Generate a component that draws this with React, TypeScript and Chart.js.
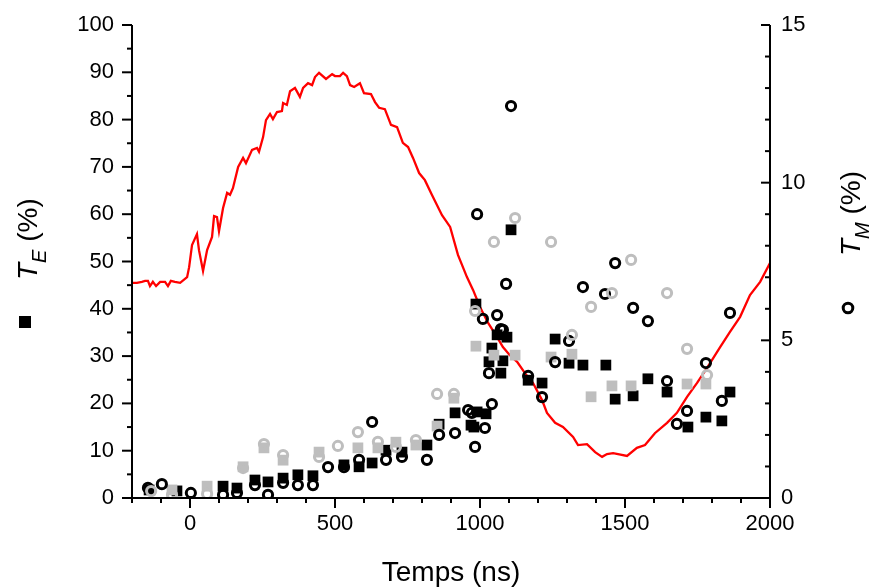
import React, { useEffect, useRef } from 'react';
import { Chart, registerables } from 'chart.js';

Chart.register(...registerables);

const FONT = '"Liberation Sans", Arial, Helvetica, sans-serif';

// Axis ticks
const X_TICKS = [0, 500, 1000, 1500, 2000];
const X_MINOR = [-200, -100, 100, 200, 300, 400, 600, 700, 800, 900, 1100, 1200, 1300, 1400, 1600, 1700, 1800, 1900];
const YL_TICKS = [0, 10, 20, 30, 40, 50, 60, 70, 80, 90, 100];
const YL_MINOR = [5, 15, 25, 35, 45, 55, 65, 75, 85, 95];
const YR_TICKS = [0, 5, 10, 15];
const YR_MINOR = [1, 2, 3, 4, 6, 7, 8, 9, 11, 12, 13, 14];

// Red reference curve (left axis)
const RED_X = [-200, -183, -166, -155, -145, -138, -128, -117, -103, -86, -76, -66, -52, -34, -10, -3, 7, 24, 31, 45, 59, 76, 83, 93, 100, 114, 128, 138, 148, 166, 183, 193, 214, 231, 238, 252, 262, 276, 286, 300, 317, 321, 334, 345, 362, 379, 390, 407, 421, 431, 445, 469, 490, 500, 517, 528, 541, 552, 566, 586, 600, 624, 638, 652, 672, 693, 714, 734, 752, 769, 790, 810, 834, 869, 897, 924, 955, 976, 1000, 1028, 1059, 1079, 1103, 1128, 1155, 1183, 1214, 1231, 1259, 1286, 1321, 1338, 1369, 1397, 1421, 1438, 1459, 1476, 1507, 1541, 1569, 1603, 1645, 1679, 1714, 1748, 1783, 1828, 1862, 1897, 1931, 1966, 2000];
const RED_Y = [45.5, 45.5, 45.7, 45.9, 45.9, 44.8, 45.7, 44.8, 45.7, 45.7, 44.8, 45.9, 45.7, 45.5, 46.7, 48.8, 53.5, 55.8, 52.4, 48.0, 52.4, 55.2, 59.6, 59.4, 56.4, 61.3, 64.5, 64.1, 65.5, 70.0, 71.9, 70.8, 73.6, 74.0, 73.2, 76.3, 79.9, 81.2, 80.1, 81.6, 81.8, 83.5, 83.1, 86.0, 86.7, 84.8, 86.7, 87.7, 87.3, 89.0, 89.9, 88.6, 89.6, 89.2, 89.2, 89.9, 89.2, 87.3, 86.9, 87.7, 85.6, 85.4, 83.7, 82.5, 82.2, 78.9, 78.4, 75.1, 74.2, 71.9, 68.7, 67.2, 64.1, 59.8, 57.3, 51.4, 46.7, 44.0, 40.4, 37.0, 34.0, 31.9, 30.2, 28.8, 26.4, 24.3, 20.7, 18.0, 15.9, 15.0, 12.9, 11.2, 11.4, 9.7, 8.7, 9.3, 9.5, 9.3, 8.9, 10.6, 11.2, 13.7, 15.9, 18.0, 21.4, 24.3, 27.5, 31.9, 35.1, 38.3, 42.9, 45.7, 49.7];

// T_E black squares (left axis)
const BSQ_X = [-141, -45, 114, 162, 224, 269, 321, 372, 424, 531, 583, 628, 676, 731, 817, 859, 914, 969, 979, 990, 1021, 986, 1031, 1041, 1059, 1072, 1079, 1093, 1107, 1166, 1214, 1259, 1307, 1355, 1434, 1466, 1528, 1579, 1645, 1717, 1779, 1834, 1862];
const BSQ_Y = [1.7, 1.5, 2.5, 2.1, 3.8, 3.4, 4.2, 4.9, 4.7, 7.0, 6.6, 7.4, 10.1, 9.7, 11.2, 15.6, 18.0, 15.4, 15.0, 18.2, 17.8, 41.0, 28.8, 31.7, 34.5, 26.4, 29.0, 34.0, 56.7, 24.9, 24.3, 33.6, 28.5, 28.1, 28.1, 20.9, 21.6, 25.2, 22.4, 15.0, 17.1, 16.3, 22.4];

// T_E gray squares (left axis)
const GSQ_X = [-62, 59, 183, 255, 321, 445, 579, 648, 710, 779, 852, 910, 986, 1048, 1121, 1245, 1317, 1383, 1455, 1521, 1714, 1779];
const GSQ_Y = [1.7, 2.5, 6.6, 10.6, 8.0, 9.7, 10.6, 10.6, 11.8, 11.2, 15.2, 21.1, 32.1, 30.2, 30.2, 29.8, 30.4, 21.4, 23.7, 23.7, 24.1, 24.1];

// T_M black circles (right axis)
const BC_X = [-145, -97, 3, 114, 162, 224, 269, 321, 372, 424, 476, 531, 583, 628, 676, 731, 817, 859, 914, 959, 972, 983, 1017, 1041, 1031, 990, 1010, 1059, 1072, 1079, 1090, 1107, 1166, 1214, 1259, 1307, 1355, 1431, 1466, 1528, 1579, 1645, 1679, 1714, 1779, 1834, 1862];
const BC_Y = [0.32, 0.44, 0.16, 0.10, 0.16, 0.41, 0.10, 0.48, 0.41, 0.41, 0.98, 0.98, 1.21, 2.41, 1.21, 1.30, 1.21, 2.00, 2.06, 2.79, 2.70, 1.62, 2.22, 2.98, 3.96, 9.0, 5.68, 5.80, 5.36, 5.33, 6.79, 12.43, 3.87, 3.20, 4.31, 4.98, 6.69, 6.47, 7.45, 6.03, 5.61, 3.71, 2.35, 2.76, 4.28, 3.08, 5.87];

// T_M gray circles (right axis)
const GC_X = [-134, -62, 59, 183, 255, 321, 445, 510, 579, 648, 710, 779, 852, 910, 983, 1048, 1121, 1245, 1317, 1383, 1455, 1521, 1645, 1714, 1783];
const GC_Y = [0.22, 0.10, 0.13, 0.95, 1.71, 1.36, 1.30, 1.65, 2.09, 1.78, 1.62, 1.84, 3.30, 3.30, 5.93, 8.12, 8.88, 8.12, 5.17, 6.06, 6.50, 7.55, 6.50, 4.73, 3.90];

const zip = (xs: number[], ys: number[]) => xs.map((x, i) => ({ x, y: ys[i] }));

const GRAY = 'rgb(190,190,190)';

const axesPlugin = {
  id: 'customAxes',
  afterDraw(chart: any) {
    const { ctx, chartArea: ca, scales } = chart;
    const sx = scales.x, sl = scales.y, sr = scales.y1;
    ctx.save();
    ctx.strokeStyle = '#000';
    ctx.lineWidth = 2;
    ctx.lineCap = 'butt';
    const line = (x1: number, y1: number, x2: number, y2: number) => {
      ctx.beginPath();
      ctx.moveTo(x1, y1);
      ctx.lineTo(x2, y2);
      ctx.stroke();
    };
    // axis lines
    line(ca.left, ca.top, ca.left, ca.bottom + 1);
    line(ca.right, ca.top, ca.right, ca.bottom + 1);
    line(ca.left - 1, ca.bottom, ca.right + 1, ca.bottom);
    // x ticks (outward)
    X_TICKS.forEach((v) => { const p = sx.getPixelForValue(v); line(p, ca.bottom, p, ca.bottom + 10); });
    X_MINOR.forEach((v) => { const p = sx.getPixelForValue(v); line(p, ca.bottom, p, ca.bottom + 5); });
    // left y ticks (outward)
    YL_TICKS.forEach((v) => { const p = sl.getPixelForValue(v); line(ca.left - 10, p, ca.left, p); });
    YL_MINOR.forEach((v) => { const p = sl.getPixelForValue(v); line(ca.left - 5, p, ca.left, p); });
    // right y ticks (inward)
    YR_TICKS.forEach((v) => { const p = sr.getPixelForValue(v); line(ca.right - 9, p, ca.right, p); });
    YR_MINOR.forEach((v) => { const p = sr.getPixelForValue(v); line(ca.right - 5, p, ca.right, p); });

    // titles
    ctx.fillStyle = '#000';
    ctx.textBaseline = 'alphabetic';
    ctx.textAlign = 'center';
    ctx.font = `28px ${FONT}`;
    ctx.fillText('Temps (ns)', (ca.left + ca.right) / 2, 581);

    const rotTitle = (bx: number, by: number, main: string, sub: string, rest: string) => {
      ctx.save();
      ctx.translate(bx, by);
      ctx.rotate(-Math.PI / 2);
      ctx.textAlign = 'left';
      ctx.font = `italic 28px ${FONT}`;
      ctx.fillText(main, 0, 0);
      let w = ctx.measureText(main).width;
      ctx.font = `italic 20px ${FONT}`;
      ctx.fillText(sub, w, 9);
      w += ctx.measureText(sub).width;
      ctx.font = `28px ${FONT}`;
      ctx.fillText(rest, w, 0);
      ctx.restore();
    };
    rotTitle(37, 280, 'T', 'E', ' (%)');
    rotTitle(860, 256, 'T', 'M', ' (%)');

    // legend-like symbols
    ctx.fillStyle = '#000';
    ctx.fillRect(19, 316, 12, 12);
    ctx.beginPath();
    ctx.lineWidth = 3;
    ctx.arc(848, 308, 4.8, 0, Math.PI * 2);
    ctx.stroke();
    ctx.restore();
  },
};

const fmt = (v: any) => String(v);

export default function App() {
  const ref = useRef<HTMLCanvasElement | null>(null);
  useEffect(() => {
    if (!ref.current) return;
    const tickFont = { size: 22, family: FONT };
    const gridWith = (tl: number) => ({ display: false, drawTicks: true, tickLength: tl });
    const chart = new Chart(ref.current, {
      type: 'scatter',
      data: {
        datasets: [
          {
            type: 'line',
            data: zip(RED_X, RED_Y),
            yAxisID: 'y',
            borderColor: '#ff0000',
            borderWidth: 2.3,
            pointRadius: 0,
            tension: 0,
            fill: false,
            order: 5,
          } as any,
          {
            data: zip(BSQ_X, BSQ_Y),
            yAxisID: 'y',
            pointStyle: 'rect',
            pointRadius: 7.6,
            backgroundColor: '#000',
            borderWidth: 0,
            order: 4,
          },
          {
            data: zip(GSQ_X, GSQ_Y),
            yAxisID: 'y',
            pointStyle: 'rect',
            pointRadius: 7.6,
            backgroundColor: GRAY,
            borderWidth: 0,
            order: 3,
          },
          {
            data: zip(BC_X, BC_Y),
            yAxisID: 'y1',
            pointStyle: 'circle',
            pointRadius: 4.6,
            backgroundColor: 'rgba(0,0,0,0)',
            borderColor: '#000',
            borderWidth: 3,
            order: 2,
          },
          {
            data: zip(GC_X, GC_Y),
            yAxisID: 'y1',
            pointStyle: 'circle',
            pointRadius: 4.6,
            backgroundColor: 'rgba(0,0,0,0)',
            borderColor: GRAY,
            borderWidth: 3,
            order: 1,
          },
        ],
      },
      options: {
        responsive: false,
        animation: false,
        devicePixelRatio: 1,
        layout: { padding: { top: 25, left: 0, right: 0, bottom: 0 } },
        plugins: { legend: { display: false }, tooltip: { enabled: false } },
        events: [],
        scales: {
          x: {
            type: 'linear',
            position: 'bottom',
            min: -200,
            max: 2000,
            afterBuildTicks: (s: any) => { s.ticks = X_TICKS.map((v) => ({ value: v })); },
            afterFit: (s: any) => { s.height = 89; },
            grid: gridWith(13),
            border: { display: false },
            ticks: { font: tickFont, color: '#000', padding: 0, maxRotation: 0, autoSkip: false, callback: fmt },
          },
          y: {
            type: 'linear',
            position: 'left',
            min: 0,
            max: 100,
            afterBuildTicks: (s: any) => { s.ticks = YL_TICKS.map((v) => ({ value: v })); },
            afterFit: (s: any) => { s.width = 132; },
            grid: gridWith(18),
            border: { display: false },
            ticks: { font: tickFont, color: '#000', padding: 0, autoSkip: false, callback: fmt },
          },
          y1: {
            type: 'linear',
            position: 'right',
            min: 0,
            max: 15,
            afterBuildTicks: (s: any) => { s.ticks = YR_TICKS.map((v) => ({ value: v })); },
            afterFit: (s: any) => { s.width = 102; },
            grid: gridWith(11),
            border: { display: false },
            ticks: { font: tickFont, color: '#000', padding: 0, autoSkip: false, callback: fmt },
          },
        },
      },
      plugins: [axesPlugin],
    } as any);
    return () => chart.destroy();
  }, []);
  return (
    <div style={{ position: 'fixed', left: 0, top: 0, width: 872, height: 587, background: '#fff' }}>
      <canvas ref={ref} width={872} height={587} style={{ display: 'block', width: 872, height: 587 }} />
    </div>
  );
}
